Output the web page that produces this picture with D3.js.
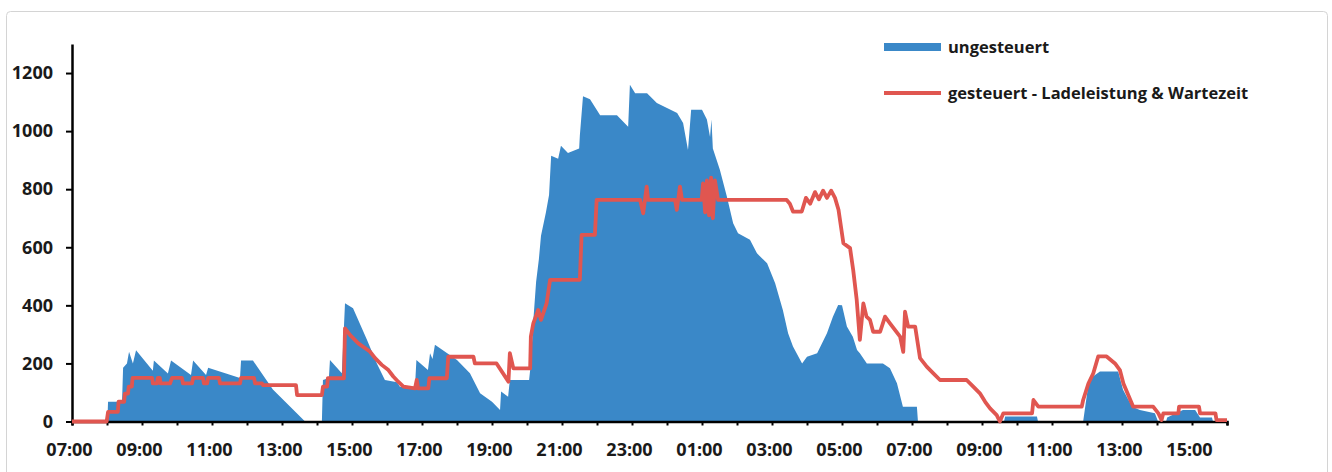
<!DOCTYPE html>
<html>
<head>
<meta charset="utf-8">
<script src="https://cdn.jsdelivr.net/npm/d3@7"></script>
<style>
  body { margin: 0; background: #fff; }
  svg text { font-family: "Open Sans", "Noto Sans", sans-serif; font-weight: 700; fill: #1a1a1a; }
</style>
</head>
<body>
<svg id="chart" width="1332" height="472"></svg>
<script>
// hours after 07:00 on day one
const ungesteuertH = [0, 1.01, 1.03, 1.43, 1.46, 1.57, 1.63, 1.74, 1.83, 2.31, 2.34, 2.74, 2.83, 3.40, 3.46, 3.83, 3.89, 4.80, 4.83, 5.17, 5.74, 6.66,
  7.14, 7.17, 7.34, 7.37, 7.71, 7.80, 8.03, 8.43, 8.71, 8.94, 9.29, 9.37, 9.80, 9.84, 10.17, 10.23, 10.30, 10.37, 11.0, 11.37, 11.66, 12.0, 12.23,
  12.26, 12.46, 12.51, 13.06, 13.11, 13.17, 13.26, 13.34, 13.40, 13.54, 13.63, 13.69, 13.89, 13.97, 14.17, 14.49, 14.51, 14.60, 14.80, 15.09,
  15.57, 15.89, 15.94, 16.09, 16.43, 16.71, 17.0, 17.29, 17.46, 17.60, 17.69, 18.0, 18.14, 18.23, 18.27, 18.31, 18.51, 18.71, 18.89, 19.03,
  19.37, 19.57, 19.86, 20.09, 20.31, 20.46, 20.6, 20.86, 21.0, 21.29, 21.57, 21.74, 21.89, 22.0, 22.14, 22.31, 22.43, 22.51, 22.71, 23.17,
  23.37, 23.57, 23.74, 24.14, 24.17, 26.63, 26.66, 27.57, 27.6, 28.89, 29.03, 29.17, 29.37, 29.89, 30.03, 30.29, 30.51, 30.94, 31.03, 31.26,
  31.29, 31.74, 32.09, 32.23, 32.57, 32.6, 33];
const ungesteuertV = [0, 0, 68, 68, 185, 200, 240, 200, 245, 175, 210, 165, 210, 160, 210, 160, 185, 150, 210, 210, 110, 0,
  0, 143, 150, 212, 166, 407, 390, 281, 200, 143, 135, 120, 120, 212, 177, 235, 215, 264, 212, 166, 97, 68, 40,
  103, 85, 143, 143, 200, 330, 480, 560, 640, 720, 780, 915, 905, 950, 925, 940, 985, 1120, 1110, 1055,
  1055, 1015, 1160, 1130, 1130, 1097, 1080, 1062, 1028, 935, 1074, 1074, 1040, 980, 1040, 940, 867, 775, 683, 648,
  626, 579, 545, 476, 384, 304, 258, 200, 223, 235, 304, 361, 401, 400, 327, 292, 246, 235, 200, 200,
  183, 132, 51, 51, 0, 0, 17, 17, 0, 0, 120, 155, 172, 172, 109, 51, 40, 28, 0, 0,
  14, 40, 40, 14, 14, 0, 0];

const gesteuertH = [0, 0.99, 1.03, 1.31, 1.33, 1.49, 1.51, 1.6, 1.62, 1.71, 1.73, 2.29, 2.31, 2.43, 2.45, 2.51, 2.53, 2.8, 2.86, 3.14, 3.17,
  3.43, 3.46, 3.74, 3.77, 3.86, 3.89, 4.2, 4.23, 4.8, 4.83, 5.2, 5.23, 5.43, 5.46, 6.4, 6.43, 7.14, 7.17, 7.29, 7.31, 7.77, 7.8, 7.94,
  8.18, 8.51, 8.66, 8.85, 9.04, 9.18, 9.32, 9.47, 9.8, 9.85, 9.89, 10.18, 10.21, 10.71, 10.75, 11.47, 11.51, 12.13, 12.47, 12.51, 12.61,
  13.09, 13.11, 13.18, 13.32, 13.4, 13.56, 13.66, 14.51, 14.56, 14.94, 14.99, 16.23, 16.32, 16.42, 16.46, 17.23, 17.28, 17.37, 17.43,
  17.99, 18.03, 18.09, 18.14, 18.2, 18.26, 18.31, 18.37, 18.46, 20.42, 20.51, 20.6, 20.85, 20.97, 21.09, 21.23, 21.34, 21.46, 21.57,
  21.69, 21.8, 21.9, 22.04, 22.23, 22.32, 22.42, 22.51, 22.61, 22.7, 22.8, 22.89, 23.09, 23.23, 23.37, 23.66, 23.75, 23.8, 23.89, 24.09,
  24.23, 24.42, 24.61, 24.8, 25.56, 25.75, 25.94, 26.09, 26.23, 26.42, 26.51, 26.61, 27.43, 27.47, 27.61, 28.85, 28.89, 29.04, 29.18,
  29.32, 29.56, 29.8, 29.94, 30.04, 30.32, 30.89, 31.04, 31.13, 31.18, 31.61, 31.63, 32.2, 32.23, 32.67, 32.7, 33];
const gesteuertV = [0, 0, 33, 33, 68, 68, 96, 96, 120, 120, 150, 150, 131, 131, 150, 150, 131, 131, 150, 150, 131,
  131, 150, 150, 131, 131, 150, 150, 131, 131, 150, 150, 131, 131, 125, 125, 91, 91, 120, 120, 149, 149, 321, 298,
  269, 241, 218, 195, 177, 155, 137, 120, 114, 143, 114, 114, 149, 149, 223, 223, 200, 200, 137, 235, 183,
  183, 292, 338, 384, 350, 407, 488, 488, 643, 643, 763, 763, 717, 809, 763, 763, 729, 809, 763,
  763, 820, 720, 830, 710, 840, 700, 830, 763, 763, 750, 723, 723, 770, 750, 790, 765, 795, 770,
  795, 770, 729, 614, 597, 522, 419, 281, 407, 361, 350, 309, 309, 361, 338, 292, 240, 378, 327, 327,
  218, 189, 166, 143, 143, 120, 97, 68, 45, 22, 0, 28, 28, 74, 51, 51, 74, 131, 166,
  224, 224, 200, 177, 131, 51, 51, 28, 5, 28, 28, 51, 51, 28, 28, 5, 5];

const yTicks = [0, 200, 400, 600, 800, 1000, 1200];
const xTickLabels = ['07:00', '09:00', '11:00', '13:00', '15:00', '17:00', '19:00', '21:00', '23:00',
  '01:00', '03:00', '05:00', '07:00', '09:00', '11:00', '13:00', '15:00'];
const seriesNames = ['ungesteuert', 'gesteuert - Ladeleistung & Wartezeit'];

const BLUE = '#3a88c8';
const RED = '#e05650';

const svg = d3.select('svg#chart');

// light frame round the chart
svg.append('rect')
  .attr('x', 6.5).attr('y', 11.5)
  .attr('width', 1321).attr('height', 480)
  .attr('rx', 4)
  .attr('fill', '#fff')
  .attr('stroke', '#d4d4d4');

const x = d3.scaleLinear().domain([0, 33]).range([72, 1227]);
const y = d3.scaleLinear().domain([0, 1300]).range([421.5, 44]);

const blueData = ungesteuertH.map((h, i) => [h, ungesteuertV[i]]);
const redData = gesteuertH.map((h, i) => [h, gesteuertV[i]]);

svg.append('path')
  .attr('fill', BLUE)
  .attr('d', d3.area()
    .x(d => x(d[0]))
    .y0(y(0))
    .y1(d => y(d[1]))(blueData));

// x axis, a tick each hour, a label every second hour
const xAxis = d3.axisBottom(x)
  .tickValues(d3.range(0, 34))
  .tickSize(4)
  .tickPadding(18)
  .tickFormat(h => (h % 2 === 0 ? xTickLabels[h / 2] : ''));

const gx = svg.append('g')
  .attr('transform', `translate(0,${y(0)})`)
  .call(xAxis);
gx.select('.domain').attr('stroke', '#000').attr('stroke-width', 2.5);
gx.selectAll('.tick line').attr('stroke', '#000').attr('stroke-width', 2);
gx.selectAll('.tick text').attr('font-size', 18).attr('dx', -3).attr('fill', '#1a1a1a');

const yAxis = d3.axisLeft(y)
  .tickValues(yTicks)
  .tickSize(6)
  .tickPadding(13)
  .tickSizeOuter(0)
  .tickFormat(d3.format('d'));

const gy = svg.append('g')
  .attr('transform', `translate(${x(0)},0)`)
  .call(yAxis);
gy.select('.domain').attr('stroke', '#000').attr('stroke-width', 2.5);
gy.selectAll('.tick line').attr('stroke', '#000').attr('stroke-width', 2);
gy.selectAll('.tick text').attr('font-size', 18).attr('fill', '#1a1a1a');

svg.append('path')
  .attr('fill', 'none')
  .attr('stroke', RED)
  .attr('stroke-width', 3.8)
  .attr('stroke-linejoin', 'round')
  .attr('d', d3.line()
    .x(d => x(d[0]))
    .y(d => y(d[1]))(redData));

// legend
const legend = svg.append('g');
legend.append('rect')
  .attr('x', 884).attr('y', 43)
  .attr('width', 57).attr('height', 8)
  .attr('fill', BLUE);
legend.append('line')
  .attr('x1', 884).attr('x2', 941)
  .attr('y1', 93).attr('y2', 93)
  .attr('stroke', RED).attr('stroke-width', 3.8);
legend.selectAll('text.leg')
  .data(seriesNames)
  .enter()
  .append('text')
  .attr('class', 'leg')
  .attr('x', 948)
  .attr('y', (d, i) => 47 + i * 46)
  .attr('dy', '0.35em')
  .attr('font-size', 16.5)
  .text(d => d);
</script>
</body>
</html>
